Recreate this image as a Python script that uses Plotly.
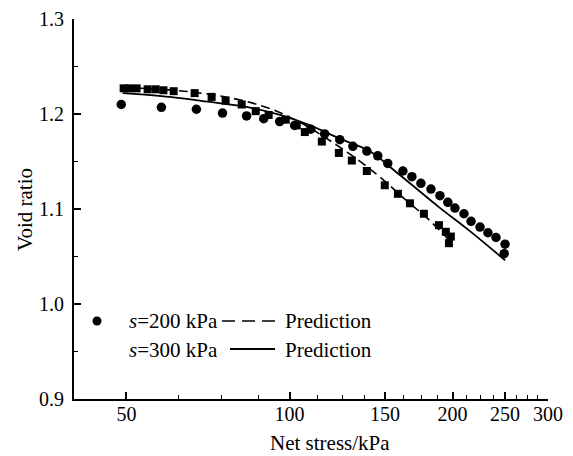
import plotly.graph_objects as go

# ---- data ----
circle_x = [48.9, 58.0, 67.3, 75.2, 83.3, 89.6, 95.9, 102.2, 109.4, 116.1, 123.8, 130.9, 138.9, 145.5,
            151.8, 161.9, 168.2, 174.8, 182.4, 189.5, 196.0, 202.0, 209.9, 216.3, 224.7, 232.4, 240.5,
            249.9, 249.0]
circle_y = [1.210, 1.207, 1.205, 1.201, 1.198, 1.195, 1.192, 1.188, 1.184, 1.179, 1.173, 1.166, 1.161,
            1.156, 1.148, 1.140, 1.134, 1.127, 1.121, 1.114, 1.107, 1.101, 1.095, 1.087, 1.081, 1.075,
            1.070, 1.063, 1.053]

square_x = [49.4, 50.6, 52.2, 54.7, 56.6, 58.5, 61.1, 66.8, 71.8, 76.2, 81.6, 86.6, 91.5, 98.4, 103.1,
            106.7, 114.7, 123.3, 130.3, 138.9, 149.9, 158.5, 166.8, 177.0, 188.7, 194.3, 198.5, 196.9]
square_y = [1.227, 1.227, 1.227, 1.226, 1.226, 1.225, 1.224, 1.222, 1.218, 1.214, 1.210, 1.203, 1.199,
            1.194, 1.188, 1.181, 1.171, 1.159, 1.151, 1.140, 1.125, 1.116, 1.106, 1.095, 1.083, 1.076,
            1.071, 1.064]

solid_x = [49.2, 60.1, 70.6, 84.1, 96.0, 109.1, 123.8, 140.4, 159.6, 188.7, 215.0, 250.0]
solid_y = [1.222, 1.218, 1.213, 1.207, 1.199, 1.188, 1.174, 1.161, 1.136, 1.102, 1.077, 1.046]

dash_x = [49.2, 63.9, 77.8, 91.6, 104.7, 122.4, 141.6, 165.9, 181.4, 199.4]
dash_y = [1.228, 1.224, 1.217, 1.206, 1.191, 1.167, 1.141, 1.107, 1.088, 1.064]

x_major = [50, 100, 150, 200, 250, 300]
x_minor = [62.5, 75, 87.5, 112.5, 125, 137.5, 162.5, 175, 187.5, 212.5, 225, 237.5, 262.5, 275, 287.5]
y_major = [0.9, 1.0, 1.1, 1.2, 1.3]
y_minor = [0.95, 1.05, 1.15, 1.25]

legend_row1 = "<i>s</i>=200 kPa"
legend_row2 = "<i>s</i>=300 kPa"
pred_label = "Prediction"

FONT = "Times New Roman, Liberation Serif, serif"
FS_TICK = 20
FS_TEXT = 21

fig = go.Figure()
fig.add_trace(go.Scatter(x=dash_x, y=dash_y, mode="lines", line_shape="spline",
                         line=dict(color="black", width=1.6, dash="9px,5px"), showlegend=False))
fig.add_trace(go.Scatter(x=solid_x, y=solid_y, mode="lines", line_shape="spline",
                         line=dict(color="black", width=1.8), showlegend=False))
fig.add_trace(go.Scatter(x=square_x, y=square_y, mode="markers",
                         marker=dict(symbol="square", size=8, color="black"), showlegend=False))
fig.add_trace(go.Scatter(x=circle_x, y=circle_y, mode="markers",
                         marker=dict(symbol="circle", size=9.5, color="black"), showlegend=False))

# page is 573x456; the browser body has an 8px margin, so the figure is 565x448
OFF = 8
W, H = 573 - OFF, 456 - OFF
PL, PR, PT, PB = 74, 548, 19, 399      # plot area in page pixels
L, R, T, B = PL - OFF, 573 - PR, PT - OFF, 456 - PB
pw, ph = PR - PL, PB - PT

def px(x):
    return (x - PL) / pw

def py(y):
    return (PB - y) / ph

fig.update_layout(
    width=W, height=H,
    margin=dict(l=L, r=R, t=T, b=B, autoexpand=False),
    paper_bgcolor="white", plot_bgcolor="white",
    font=dict(family=FONT, size=FS_TICK, color="black"),
    showlegend=False,
)
fig.update_xaxes(
    type="log", range=[1.60206, 2.47712], automargin=False,
    tickmode="array", tickvals=x_major, ticktext=[str(v) for v in x_major],
    ticks="inside", ticklen=7, tickwidth=1.5, tickcolor="black",
    showline=True, linecolor="black", linewidth=1.8, showgrid=False, zeroline=False,
    minor=dict(tickmode="array", tickvals=x_minor, ticks="inside", ticklen=4,
               tickwidth=1.3, tickcolor="black", showgrid=False),
    tickfont=dict(size=FS_TICK, family=FONT), ticklabelstandoff=-4,
)
fig.update_yaxes(
    range=[0.9, 1.3], automargin=False,
    tickmode="array", tickvals=y_major, ticktext=["0.9", "1.0", "1.1", "1.2", "1.3"],
    ticks="inside", ticklen=7, tickwidth=1.5, tickcolor="black",
    showline=True, linecolor="black", linewidth=1.8, showgrid=False, zeroline=False,
    minor=dict(tickmode="array", tickvals=y_minor, ticks="inside", ticklen=4,
               tickwidth=1.3, tickcolor="black", showgrid=False),
    tickfont=dict(size=FS_TICK, family=FONT), ticklabelstandoff=4,
)

ann = []
ann.append(dict(text="Net stress/kPa", x=px(330), y=py(443), xref="paper", yref="paper",
                xanchor="center", yanchor="middle", showarrow=False, font=dict(size=FS_TEXT)))
ann.append(dict(text="Void ratio", x=px(25), y=py(210), xref="paper", yref="paper",
                xanchor="center", yanchor="middle", textangle=-90, showarrow=False, font=dict(size=FS_TEXT)))
ann.append(dict(text=legend_row1, x=px(127), y=py(321), xref="paper", yref="paper",
                xanchor="left", yanchor="middle", showarrow=False, font=dict(size=FS_TEXT)))
ann.append(dict(text=legend_row2, x=px(127), y=py(350), xref="paper", yref="paper",
                xanchor="left", yanchor="middle", showarrow=False, font=dict(size=FS_TEXT)))
ann.append(dict(text=pred_label, x=px(283), y=py(321), xref="paper", yref="paper",
                xanchor="left", yanchor="middle", showarrow=False, font=dict(size=FS_TEXT)))
ann.append(dict(text=pred_label, x=px(283), y=py(350), xref="paper", yref="paper",
                xanchor="left", yanchor="middle", showarrow=False, font=dict(size=FS_TEXT)))
fig.update_layout(annotations=ann)

shapes = []
shapes.append(dict(type="line", xref="paper", yref="paper", x0=px(222), x1=px(275), y0=py(321), y1=py(321),
                   line=dict(color="black", width=1.6, dash="13px,7px")))
shapes.append(dict(type="line", xref="paper", yref="paper", x0=px(230), x1=px(275), y0=py(349), y1=py(349),
                   line=dict(color="black", width=1.8)))
shapes.append(dict(type="circle", xref="paper", yref="paper", xsizemode="pixel", ysizemode="pixel",
                   xanchor=px(97), yanchor=py(321), x0=-4.5, x1=4.5, y0=-4.5, y1=4.5,
                   fillcolor="black", line=dict(color="black", width=0)))
fig.update_layout(shapes=shapes)

fig.write_html("out.html")
